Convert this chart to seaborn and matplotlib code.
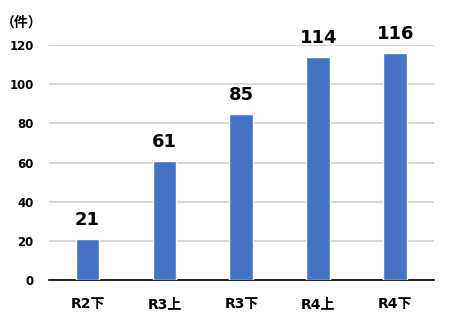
import matplotlib
matplotlib.use("Agg")
import matplotlib.pyplot as plt
import seaborn as sns
import pandas as pd

categories = ["R2下", "R3上", "R3下", "R4上", "R4下"]
values = [21, 61, 85, 114, 116]
yticks = [0, 20, 40, 60, 80, 100, 120]

sns.set_theme(style="white")
plt.rcParams['font.family'] = ['DejaVu Sans', 'Noto Sans CJK JP']

df = pd.DataFrame({"cat": categories, "val": values})
fig = plt.figure(figsize=(4.5, 3.26), dpi=100)
ax = fig.add_axes([0.109, 0.141, 0.855, 0.721])
sns.barplot(data=df, x="cat", y="val", color="#4472C4", saturation=1, width=0.31, ax=ax, zorder=3)
ax.set_ylim(0, 120)
ax.set_yticks(yticks)
ax.set_xlim(-0.5, 4.5)
ax.yaxis.grid(True, color="#D0D0D0", linewidth=1.2, zorder=0)
ax.set_axisbelow(True)
for s in ["top", "right", "left"]:
    ax.spines[s].set_visible(False)
ax.spines["bottom"].set_color("black")
ax.spines["bottom"].set_linewidth(1.2)
ax.set_xlabel("")
ax.set_ylabel("")
ax.tick_params(axis="y", length=0, pad=11, labelsize=8.5)
ax.tick_params(axis="x", length=0, pad=12, labelsize=10)
for lab in ax.get_yticklabels() + ax.get_xticklabels():
    lab.set_fontweight("bold")
    lab.set_color("black")
for i, v in enumerate(values):
    ax.text(i, v + 5, str(v), ha="center", va="bottom", fontsize=13, fontweight="bold", color="black")
fig.text(0.047, 0.93, "（件）", ha="center", va="center", fontsize=10, fontweight="bold",
         color="black", family=['Noto Sans CJK JP', 'DejaVu Sans'])
fig.savefig("out.png", dpi=100)
